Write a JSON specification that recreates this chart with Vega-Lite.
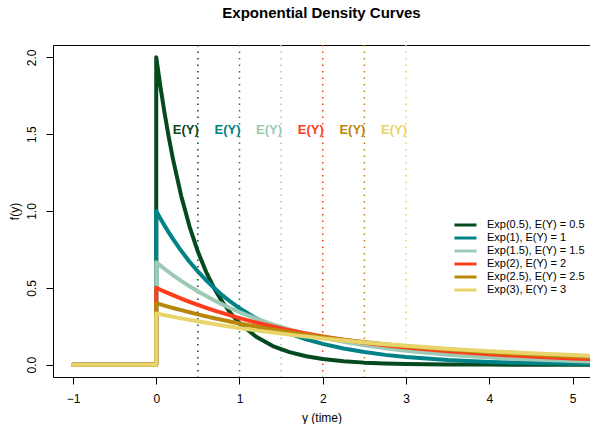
{
  "$schema": "https://vega.github.io/schema/vega-lite/v6.json",
  "autosize": {"type": "none"},
  "padding": {"left": 53, "top": 45, "right": 0, "bottom": 47},
  "width": 537,
  "height": 332,
  "background": "white",
  "title": {
    "text": "Exponential Density Curves",
    "font": "Liberation Sans",
    "fontSize": 15,
    "fontWeight": "bold",
    "color": "#000",
    "anchor": "middle",
    "baseline": "alphabetic",
    "offset": 11
  },
  "config": {
    "view": {"stroke": "#000", "strokeWidth": 1},
    "font": "Liberation Sans",
    "axis": {
      "labelFont": "Liberation Sans",
      "titleFont": "Liberation Sans",
      "labelFontSize": 12,
      "titleFontSize": 12,
      "titleFontWeight": "normal",
      "labelColor": "#000",
      "titleColor": "#000",
      "tickColor": "#000",
      "tickSize": 7,
      "tickWidth": 1,
      "domain": false,
      "grid": false
    }
  },
  "datasets": {
    "curves": [
      {"i": 0, "x": -1, "a": 0, "b": 0, "c": 0, "d": 0, "e": 0, "g": 0},
      {"i": 1, "x": 0, "a": 0, "b": 0, "c": 0, "d": 0, "e": 0, "g": 0},
      {"i": 2, "x": 0, "a": 2, "b": 1, "c": 0.6667, "d": 0.5, "e": 0.4, "g": 0.3333},
      {"i": 3, "x": 0.05, "a": 1.8097, "b": 0.9512, "c": 0.6448, "d": 0.4877, "e": 0.3921, "g": 0.3278},
      {"i": 4, "x": 0.1, "a": 1.6375, "b": 0.9048, "c": 0.6237, "d": 0.4756, "e": 0.3843, "g": 0.3224},
      {"i": 5, "x": 0.15, "a": 1.4816, "b": 0.8607, "c": 0.6032, "d": 0.4639, "e": 0.3767, "g": 0.3171},
      {"i": 6, "x": 0.2, "a": 1.3406, "b": 0.8187, "c": 0.5834, "d": 0.4524, "e": 0.3692, "g": 0.3118},
      {"i": 7, "x": 0.3, "a": 1.0976, "b": 0.7408, "c": 0.5458, "d": 0.4304, "e": 0.3548, "g": 0.3016},
      {"i": 8, "x": 0.4, "a": 0.8987, "b": 0.6703, "c": 0.5106, "d": 0.4094, "e": 0.3409, "g": 0.2917},
      {"i": 9, "x": 0.5, "a": 0.7358, "b": 0.6065, "c": 0.4777, "d": 0.3894, "e": 0.3275, "g": 0.2822},
      {"i": 10, "x": 0.6, "a": 0.6024, "b": 0.5488, "c": 0.4469, "d": 0.3704, "e": 0.3147, "g": 0.2729},
      {"i": 11, "x": 0.7, "a": 0.4932, "b": 0.4966, "c": 0.4181, "d": 0.3523, "e": 0.3023, "g": 0.264},
      {"i": 12, "x": 0.8, "a": 0.4038, "b": 0.4493, "c": 0.3911, "d": 0.3352, "e": 0.2905, "g": 0.2553},
      {"i": 13, "x": 0.9, "a": 0.3306, "b": 0.4066, "c": 0.3659, "d": 0.3188, "e": 0.2791, "g": 0.2469},
      {"i": 14, "x": 1.0, "a": 0.2707, "b": 0.3679, "c": 0.3423, "d": 0.3033, "e": 0.2681, "g": 0.2388},
      {"i": 15, "x": 1.2, "a": 0.1814, "b": 0.3012, "c": 0.2996, "d": 0.2744, "e": 0.2475, "g": 0.2234},
      {"i": 16, "x": 1.4, "a": 0.1216, "b": 0.2466, "c": 0.2622, "d": 0.2483, "e": 0.2285, "g": 0.209},
      {"i": 17, "x": 1.6, "a": 0.0815, "b": 0.2019, "c": 0.2294, "d": 0.2247, "e": 0.2109, "g": 0.1956},
      {"i": 18, "x": 1.8, "a": 0.0546, "b": 0.1653, "c": 0.2008, "d": 0.2033, "e": 0.1947, "g": 0.1829},
      {"i": 19, "x": 2.0, "a": 0.0366, "b": 0.1353, "c": 0.1757, "d": 0.1839, "e": 0.1797, "g": 0.1711},
      {"i": 20, "x": 2.25, "a": 0.0222, "b": 0.1054, "c": 0.1488, "d": 0.1623, "e": 0.1626, "g": 0.1575},
      {"i": 21, "x": 2.5, "a": 0.0135, "b": 0.0821, "c": 0.1259, "d": 0.1433, "e": 0.1472, "g": 0.1449},
      {"i": 22, "x": 2.75, "a": 0.0082, "b": 0.0639, "c": 0.1066, "d": 0.1264, "e": 0.1331, "g": 0.1333},
      {"i": 23, "x": 3.0, "a": 0.005, "b": 0.0498, "c": 0.0902, "d": 0.1116, "e": 0.1205, "g": 0.1226},
      {"i": 24, "x": 3.5, "a": 0.0018, "b": 0.0302, "c": 0.0646, "d": 0.0869, "e": 0.0986, "g": 0.1038},
      {"i": 25, "x": 4.0, "a": 0.0007, "b": 0.0183, "c": 0.0463, "d": 0.0677, "e": 0.0808, "g": 0.0879},
      {"i": 26, "x": 4.5, "a": 0.0002, "b": 0.0111, "c": 0.0332, "d": 0.0527, "e": 0.0661, "g": 0.0744},
      {"i": 27, "x": 5.0, "a": 0.0001, "b": 0.0067, "c": 0.0238, "d": 0.041, "e": 0.0541, "g": 0.063},
      {"i": 28, "x": 5.5, "a": 0.0, "b": 0.0041, "c": 0.017, "d": 0.032, "e": 0.0443, "g": 0.0533}
    ],
    "means": [
      {"series": "a", "mean": 0.5},
      {"series": "b", "mean": 1.0},
      {"series": "c", "mean": 1.5},
      {"series": "d", "mean": 2.0},
      {"series": "e", "mean": 2.5},
      {"series": "g", "mean": 3.0}
    ]
  },
  "layer": [
    {
      "data": {"name": "means"},
      "mark": {"type": "rule", "strokeDash": [1.5, 5], "strokeWidth": 1.5},
      "encoding": {
        "x": {"field": "mean", "type": "quantitative"},
        "stroke": {
          "field": "series",
          "type": "nominal",
          "scale": {"domain": ["a", "b", "c", "d", "e", "g"], "range": ["#054A1E", "#008289", "#9CCAB5", "#FF3D1C", "#B8860B", "#E8D46A"]},
          "legend": null
        }
      }
    },
    {
      "data": {"name": "means"},
      "mark": {"type": "text", "align": "right", "baseline": "middle", "dx": 1, "dy": -4, "font": "Liberation Sans", "fontSize": 13, "fontWeight": "bold", "text": "E(Y)"},
      "encoding": {
        "x": {"field": "mean", "type": "quantitative"},
        "y": {"datum": 1.5, "type": "quantitative"},
        "fill": {
          "field": "series",
          "type": "nominal",
          "scale": {"domain": ["a", "b", "c", "d", "e", "g"], "range": ["#054A1E", "#008289", "#9CCAB5", "#FF3D1C", "#B8860B", "#E8D46A"]},
          "legend": null
        }
      }
    },
    {
      "data": {"name": "curves"},
      "transform": [
        {"fold": ["a", "b", "c", "d", "e", "g"], "as": ["series", "f"]}
      ],
      "mark": {"type": "line", "strokeWidth": 4, "strokeCap": "round", "strokeJoin": "round", "clip": true},
      "encoding": {
        "x": {
          "field": "x",
          "type": "quantitative",
          "scale": {"domain": [-1.24, 5.21], "nice": false, "zero": false},
          "axis": {"values": [-1, 0, 1, 2, 3, 4, 5], "format": "d", "title": "y (time)", "labelPadding": 9, "labelBaseline": "top", "titleBaseline": "alphabetic", "titleY": 44.5, "titleX": 268.5, "titleAlign": "center"}
        },
        "y": {
          "field": "f",
          "type": "quantitative",
          "scale": {"domain": [-0.08, 2.08], "nice": false, "zero": false},
          "axis": {"values": [0, 0.5, 1, 1.5, 2], "format": ".1f", "title": "f(y)", "labelAngle": -90, "labelAlign": "center", "labelBaseline": "alphabetic", "labelPadding": 11, "titleAngle": -90, "titleAlign": "center", "titleBaseline": "alphabetic", "titleX": -35, "titleY": 166}
        },
        "order": {"field": "i", "type": "quantitative"},
        "color": {
          "field": "series",
          "type": "nominal",
          "scale": {"domain": ["a", "b", "c", "d", "e", "g"], "range": ["#054A1E", "#008289", "#9CCAB5", "#FF3D1C", "#B8860B", "#E8D46A"]},
          "legend": {
            "title": null,
            "orient": "none",
            "legendX": 405.5,
            "legendY": 173,
            "padding": 0,
            "symbolType": "M-2,0H2",
            "symbolSize": 121,
            "symbolStrokeWidth": 3,
            "labelFont": "Liberation Sans",
            "labelFontSize": 11,
            "labelColor": "#000",
            "labelOffset": 14.5,
            "rowPadding": -1,
            "labelExpr": "datum.value == 'a' ? 'Exp(0.5), E(Y) = 0.5' : datum.value == 'b' ? 'Exp(1), E(Y) = 1' : datum.value == 'c' ? 'Exp(1.5), E(Y) = 1.5' : datum.value == 'd' ? 'Exp(2), E(Y) = 2' : datum.value == 'e' ? 'Exp(2.5), E(Y) = 2.5' : 'Exp(3), E(Y) = 3'"
          }
        }
      }
    }
  ],
  "resolve": {"scale": {"color": "independent", "stroke": "independent", "fill": "independent"}}
}
